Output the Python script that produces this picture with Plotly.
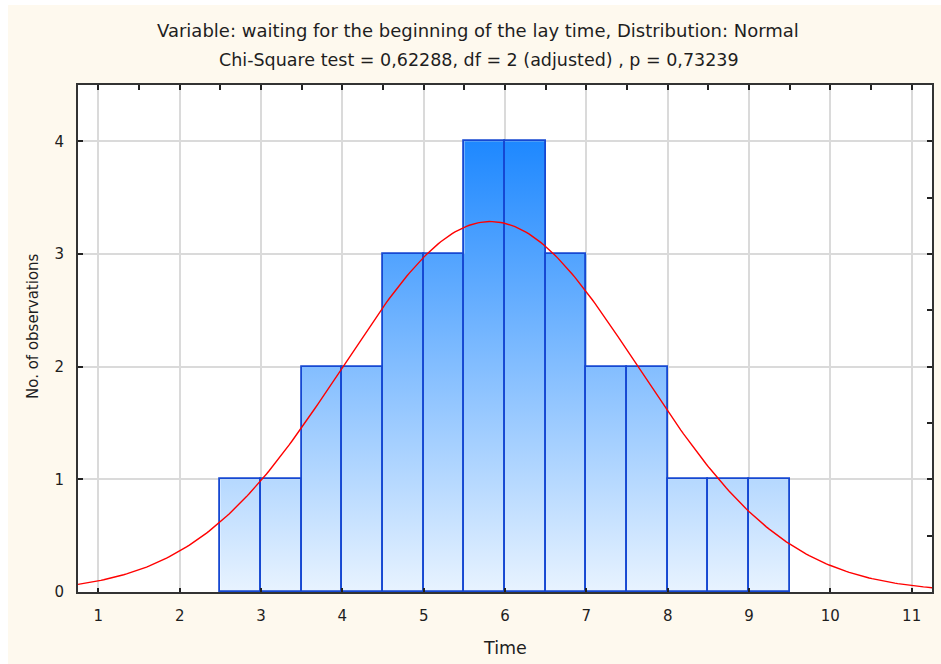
import numpy as np
import plotly.graph_objects as go

# ---- data ----
bin_edges = [2.5, 3.0, 3.5, 4.0, 4.5, 5.0, 5.5, 6.0, 6.5, 7.0, 7.5, 8.0, 8.5, 9.0, 9.5]
counts = [1, 1, 2, 2, 3, 3, 4, 4, 3, 2, 2, 1, 1, 1]
x_ticks = [1, 2, 3, 4, 5, 6, 7, 8, 9, 10, 11]
y_ticks = [0, 1, 2, 3, 4]
# fitted normal distribution parameters (expected counts per bin)
fit_mean = 5.82
fit_sd = 1.82
n_obs = sum(counts)
bin_width = 0.5

title1 = "Variable: waiting for the beginning of the lay time, Distribution: Normal"
title2 = "Chi-Square test = 0,62288, df = 2 (adjusted) , p = 0,73239"
x_title = "Time"
y_title = "No. of observations"

centers = [(a + b) / 2 for a, b in zip(bin_edges[:-1], bin_edges[1:])]
curve_x = np.linspace(0.75, 11.25, 300)
curve_y = n_obs * bin_width / (fit_sd * np.sqrt(2 * np.pi)) * np.exp(-0.5 * ((curve_x - fit_mean) / fit_sd) ** 2)

XR = [0.75, 11.25]
YR = [0, 4.5]
FONT = "DejaVu Sans, Verdana, sans-serif"
TXT = "#1e1e1e"

fig = go.Figure()

# gradient fill of bars (main subplot, above grid)
fig.add_trace(go.Scatter(
    x=bin_edges, y=counts + [counts[-1]], mode="lines", line=dict(width=0, shape="hv"),
    fill="tozeroy",
    fillgradient=dict(type="vertical", start=0, stop=4,
                      colorscale=[[0, "rgb(232,243,255)"], [1, "rgb(30,136,255)"]]),
    hoverinfo="skip", showlegend=False))

# bar outlines (overlay subplot, drawn above fill)
fig.add_trace(go.Bar(
    x=centers, y=counts, width=bin_width, xaxis="x2", yaxis="y2",
    marker=dict(color="rgba(0,0,0,0)", line=dict(color="rgb(22,72,210)", width=1.8)),
    showlegend=False))

# normal curve
fig.add_trace(go.Scatter(x=curve_x, y=curve_y, mode="lines", xaxis="x2", yaxis="y2",
                         line=dict(color="rgb(255,0,0)", width=1.4), showlegend=False))

# paper geometry: plot area 78..932 x 85..592
L, R, T, B = 78, 932, 85, 592
pw, ph = float(R - L), float(B - T)


def px(x):
    return (x - L) / pw


def py(y):
    return (B - y) / ph


fig.update_layout(
    width=941, height=664,
    margin=dict(l=L, r=941 - R, t=T, b=664 - B, autoexpand=False),
    paper_bgcolor="white", plot_bgcolor="white",
    bargap=0, barmode="overlay",
    font=dict(family=FONT, size=15, color=TXT),
    shapes=[
        dict(type="rect", xref="paper", yref="paper", layer="below",
             x0=px(8), x1=px(941), y0=py(664), y1=py(5),
             fillcolor="rgb(254,249,238)", line=dict(width=0)),
        dict(type="rect", xref="paper", yref="paper", layer="below",
             x0=0, x1=1, y0=0, y1=1, fillcolor="white", line=dict(width=0)),
    ],
    annotations=[
        dict(text=title1, xref="paper", yref="paper", x=px(478), y=py(31),
             showarrow=False, xanchor="center", yanchor="middle", font=dict(size=18)),
        dict(text=title2, xref="paper", yref="paper", x=px(479), y=py(60),
             showarrow=False, xanchor="center", yanchor="middle", font=dict(size=17.5)),
        dict(text=x_title, xref="paper", yref="paper", x=px(505), y=py(648),
             showarrow=False, xanchor="center", yanchor="middle", font=dict(size=17.5)),
        dict(text=y_title, xref="paper", yref="paper", x=px(33), y=py(326),
             showarrow=False, xanchor="center", yanchor="middle", textangle=-90,
             font=dict(size=15)),
    ],
    xaxis=dict(range=XR, tickvals=x_ticks, ticks="inside", ticklen=4, tickwidth=1.5,
               tickcolor="#222", showline=True, linecolor="#333", linewidth=2, mirror=True,
               showgrid=True, gridcolor="rgb(218,218,218)", gridwidth=1.5, zeroline=False,
               ticklabelstandoff=9, automargin=False),
    yaxis=dict(range=YR, tickvals=y_ticks, ticks="inside", ticklen=5, tickwidth=1.5,
               tickcolor="#222", showline=True, linecolor="#333", linewidth=2, mirror=True,
               showgrid=True, gridcolor="rgb(218,218,218)", gridwidth=1.5, zeroline=False,
               ticklabelstandoff=9, automargin=False),
    xaxis2=dict(range=XR, overlaying="x", side="top", dtick=0.5, tick0=0, ticks="inside",
                ticklen=5, tickwidth=1.5, tickcolor="#222", showticklabels=False,
                showgrid=False, zeroline=False, showline=False, automargin=False),
    yaxis2=dict(range=YR, overlaying="y", side="right", dtick=0.5, tick0=0, ticks="inside",
                ticklen=5, tickwidth=1.5, tickcolor="#222", showticklabels=False,
                showgrid=False, zeroline=False, showline=False, automargin=False),
)

fig.write_html("out.html", config={"displayModeBar": False},
               post_script="document.body.style.margin='0';document.body.style.overflow='hidden';")
